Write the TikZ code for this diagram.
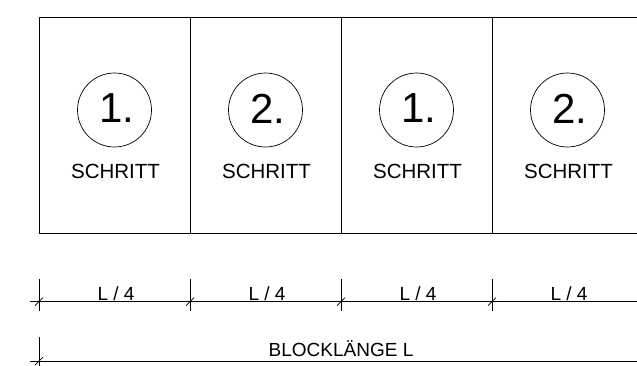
\documentclass[tikz,border=0pt]{standalone}
\usepackage{fontspec}
\setmainfont{Liberation Sans}
\begin{document}
\begin{tikzpicture}[x=1pt,y=-1pt,
  cell/.style={draw=black,line width=0.8pt,minimum width=151pt,minimum height=216pt,inner sep=0pt,anchor=north west},
  stepcircle/.style={draw=black,line width=0.7pt,circle,minimum size=74pt,inner sep=0pt},
  numtxt/.style={font=\fontsize{42}{44}\selectfont,inner sep=0pt},
  lbl/.style={font=\fontsize{20.5}{22}\selectfont,inner sep=0pt},
  dimlbl/.style={font=\fontsize{19}{21}\selectfont,inner sep=0pt},
  dimline/.style={line width=0.8pt},
  tick/.style={line width=0.7pt}]
\useasboundingbox (0,0) rectangle (637,365);
\clip (0,0) rectangle (637,365);
% cells
\foreach \i/\n in {0/1,1/2,2/1,3/2}{
  \node[cell] (c\i) at ({39+151*\i},17) {};
  \node[stepcircle] (s\i) at ({114.5+151*\i},110) {};
  \node[numtxt] (n\i) at ({117+151*\i},108.5) {\n.};
  \node[lbl] (t\i) at ({115.5+151*\i},171) {SCHRITT};
  \node[dimlbl] (d\i) at ({116+151*\i},293.5) {L / 4};
}
% dimension line 1
\coordinate (a0) at (30,301.5);
\coordinate (a1) at (640,301.5);
\draw[dimline] (a0) -- (a1);
\foreach \x in {39,190,341,492}{
  \draw[tick] (\x,279) -- (\x,311);
  \draw[tick] ({\x-4},305.5) -- ({\x+4},297.5);
}
% dimension line 2
\coordinate (b0) at (30,361);
\coordinate (b1) at (640,361);
\draw[dimline] (b0) -- (b1);
\draw[tick] (39,337) -- (39,368);
\draw[tick] (35,365) -- (43,357);
\node[dimlbl] (bl) at (341,349) {BLOCKLÄNGE L};
\end{tikzpicture}
\end{document}
